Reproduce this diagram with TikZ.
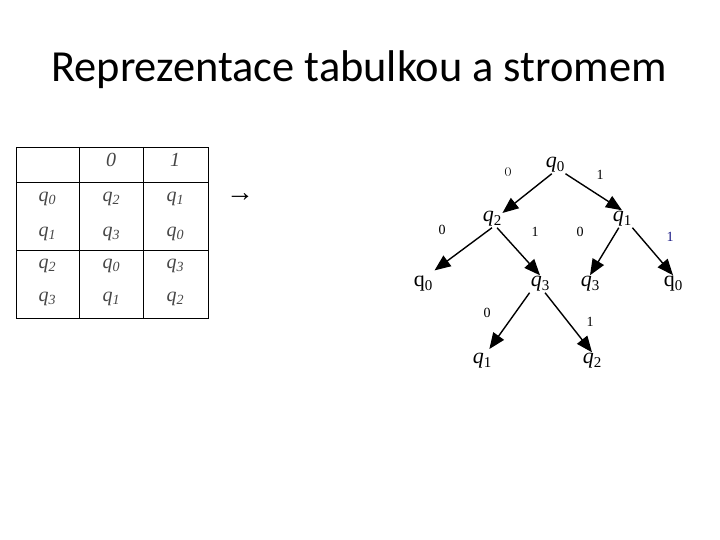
\documentclass[tikz,border=0pt]{standalone}
\usetikzlibrary{arrows.meta}
\usepackage{fontspec}
\setmainfont{Liberation Serif}
\newfontfamily\titlefont{Carlito}
\definecolor{tabgray}{RGB}{70,70,70}
\definecolor{labblue}{RGB}{20,20,130}
\newcommand\tabq[1]{\textit{q}\raisebox{-0.35ex}{\fontsize{14}{14}\selectfont\itshape #1}}
\newcommand\trq[1]{\textit{q}\raisebox{-0.4ex}{\fontsize{15}{15}\selectfont #1}}
\newcommand\upq[1]{q\raisebox{-0.4ex}{\fontsize{15}{15}\selectfont #1}}
\begin{document}
\begin{tikzpicture}[x=1pt,y=-1pt,
  tabtxt/.style={text=tabgray,font=\fontsize{20}{20}\selectfont,inner sep=0pt},
  tnode/.style={inner sep=1pt,font=\fontsize{22}{22}\selectfont},
  elab/.style={inner sep=0pt,font=\fontsize{14}{14}\selectfont},
  edgearrow/.style={color=black,line width=1.4pt,-{Triangle[length=16pt,width=13pt,color=black,fill=black]}},
  tabline/.style={line width=0.9pt}]
\fill[white] (0,0) rectangle (720,540);
\useasboundingbox (0,0) rectangle (720,540);
\node[anchor=base,inner sep=0pt,font=\titlefont\fontsize{44.4}{44.4}\selectfont] (title) at (359,82) {Reprezentace tabulkou a stromem};
% table
\draw[tabline] (16,147) rectangle (208,318);
\draw[tabline] (79,147) -- (79,318);
\draw[tabline] (143,147) -- (143,318);
\draw[tabline] (16,182) -- (208,182);
\draw[tabline] (16,250) -- (208,250);
\node[tabtxt] (h0) at (111,160) {\textit{0}};
\node[tabtxt] (h1) at (175,160) {\textit{1}};
\node[tabtxt] (r0a) at (47,199) {\tabq{0}};
\node[tabtxt] (r0b) at (111,199) {\tabq{2}};
\node[tabtxt] (r0c) at (175,199) {\tabq{1}};
\node[tabtxt] (r1a) at (47,234) {\tabq{1}};
\node[tabtxt] (r1b) at (111,234) {\tabq{3}};
\node[tabtxt] (r1c) at (175,234) {\tabq{0}};
\node[tabtxt] (r2a) at (47,266) {\tabq{2}};
\node[tabtxt] (r2b) at (111,266) {\tabq{0}};
\node[tabtxt] (r2c) at (175,266) {\tabq{3}};
\node[tabtxt] (r3a) at (47,299) {\tabq{3}};
\node[tabtxt] (r3b) at (111,299) {\tabq{1}};
\node[tabtxt] (r3c) at (175,299) {\tabq{2}};
\node[inner sep=0pt,font=\fontsize{28}{28}\selectfont] (arrowsym) at (240,198) {→};
% tree
\node[tnode] (r) at (555,165) {\trq{0}};
\node[tnode] (a) at (492,219) {\trq{2}};
\node[tnode] (b) at (622,219) {\trq{1}};
\node[tnode] (c) at (423,284) {\upq{0}};
\node[tnode] (d) at (540,284) {\trq{3}};
\node[tnode] (e) at (590,284) {\trq{3}};
\node[tnode] (f) at (673,284) {\upq{0}};
\node[tnode] (g) at (482,361) {\trq{1}};
\node[tnode] (h) at (592,361) {\trq{2}};
\draw[edgearrow] (r.250) -- (a.30);
\draw[edgearrow] (r.south east) -- (b.north);
\draw[edgearrow,shorten >=8pt] (a.south) -- (c.60);
\draw[edgearrow] (a.-60) -- (d.north);
\draw[edgearrow] (b.-110) -- (e.north);
\draw[edgearrow] (b.-40) -- (f.north);
\draw[edgearrow,shorten >=4pt] (d.-140) -- (g.60);
\draw[edgearrow] (d.-60) -- (h.north);
\node[elab,font=\fontsize{10}{10}\selectfont] (l1) at (508,172) {()};
\node[elab] (l2) at (600,175) {1};
\node[elab] (l3) at (442,230) {0};
\node[elab] (l4) at (535,232) {1};
\node[elab] (l5) at (580,232) {0};
\node[elab,text=labblue] (l6) at (670,237) {1};
\node[elab] (l7) at (487,313) {0};
\node[elab] (l8) at (590,322) {1};
\end{tikzpicture}
\end{document}
